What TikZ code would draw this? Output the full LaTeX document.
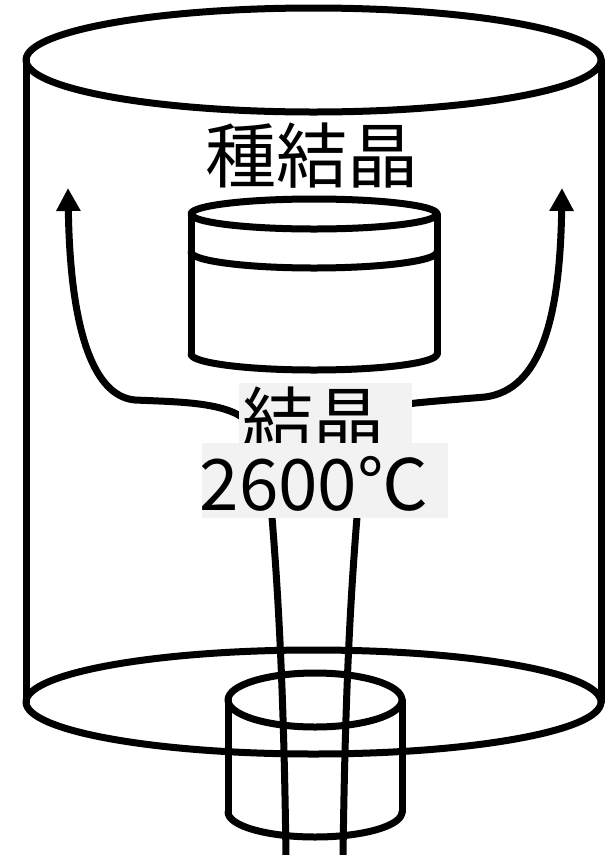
\documentclass[tikz,border=0pt]{standalone}
\usepackage{fontspec}
\newfontfamily\jp{Noto Sans CJK JP}
\usetikzlibrary{arrows.meta}
\begin{document}
\begin{tikzpicture}[x=1pt,y=-1pt,
  wall/.style={line width=7pt,line cap=round,line join=round},
  flow/.style={line width=7pt,-{Triangle[length=23pt,width=23pt]}},
  label/.style={inner sep=0pt,anchor=base,font=\jp\fontsize{71pt}{71pt}\selectfont},
  tagbox/.style={fill=black!5,draw=none}]
% canvas
\path[fill=white] (0,0) rectangle (606,855);
\useasboundingbox (0,0) rectangle (606,855);

% growth chamber
\draw[wall] (313.5,60) ellipse [x radius=287.5pt, y radius=52pt];
\draw[wall] (313.5,702) ellipse [x radius=287.5pt, y radius=52pt];
\coordinate (cTL) at (26,60);  \coordinate (cBL) at (26,702);
\coordinate (cTR) at (601,60); \coordinate (cBR) at (601,702);
\draw[wall] (cTL) -- (cBL);
\draw[wall] (cTR) -- (cBR);

% seed crystal holder
\draw[wall] (314,214) ellipse [x radius=123pt, y radius=15pt];
\draw[wall] (191,252) arc[start angle=180,end angle=360,x radius=123pt,y radius=16pt];
\draw[wall] (191,354) arc[start angle=180,end angle=360,x radius=123pt,y radius=16pt];
\draw[wall] (191,214) -- (191,354);
\draw[wall] (437,214) -- (437,354);

% crucible
\draw[wall] (315,700) ellipse [x radius=87pt, y radius=27pt];
\draw[wall] (228,812) arc[start angle=180,end angle=360,x radius=87pt,y radius=25pt];
\draw[wall] (228,700) -- (228,812);
\draw[wall] (402,700) -- (402,812);

% vapour rising from the crucible
\coordinate (vL0) at (271,505); \coordinate (vL1) at (286,858);
\coordinate (vR0) at (358,505); \coordinate (vR1) at (343,858);
\draw[wall,line cap=butt] (vL0) .. controls (279,600) and (284,700) .. (vL1);
\draw[wall,line cap=butt] (vR0) .. controls (350,600) and (345,700) .. (vR1);

% gas flow around the seed
\coordinate (fL0) at (248,422); \coordinate (fL1) at (68,188);
\coordinate (fR0) at (400,405); \coordinate (fR1) at (562,188);
\draw[flow] (fL0) .. controls (228,402) and (180,402) .. (135,400)
            .. controls (90,396) and (70,320) .. (fL1);
\draw[flow] (fR0) .. controls (420,402) and (450,400) .. (485,397)
            .. controls (540,390) and (560,320) .. (fR1);

% labels
\node[label] (seed) at (312,182) {種結晶};
\path[tagbox] (239,383) rectangle (412,470);
\node[label] (cry) at (313,446) {結晶};
\path[tagbox] (202,443) rectangle (448,518);
\node[label] (temp) at (314,510) {2600℃};
\end{tikzpicture}
\end{document}
